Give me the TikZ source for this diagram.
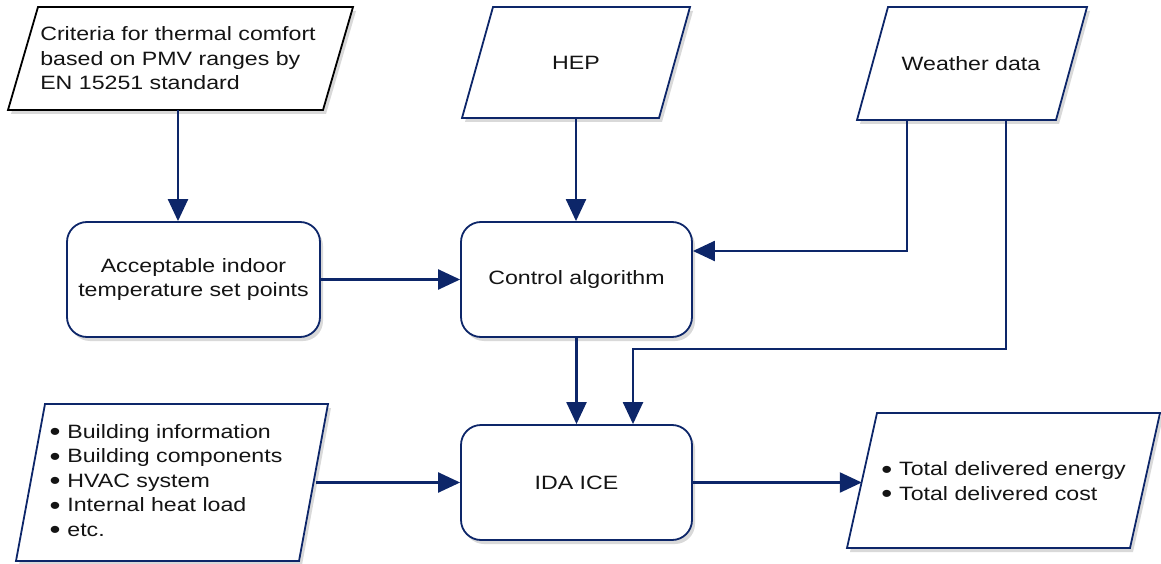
\documentclass[tikz,border=0pt]{standalone}
\usepackage{fontspec}
\setmainfont{Liberation Sans}[FakeStretch=1.2]
\usetikzlibrary{arrows.meta,shadows,calc}
\definecolor{navy}{RGB}{13,38,105}
\definecolor{txtc}{RGB}{20,20,20}
\newcommand\paragram[6][navy]{\path[shp,draw=#1] (#2+#6,#3) -- (#4,#3) -- (#4-#6,#5) -- (#2,#5) -- cycle;}
\newcommand\bul{\raisebox{-2.5pt}{\fontsize{26}{24.5}\selectfont\textbullet}\hspace{7pt}}
\begin{document}
\begin{tikzpicture}[x=1pt,y=-1pt,
  conn/.style={draw=navy, line width=2.3pt, -{Triangle[length=22pt,width=20pt]}},
  shp/.style={draw=navy, line width=1.8pt, fill=white, drop shadow={opacity=0.3,shadow xshift=3pt,shadow yshift=-4pt}},
  txt/.style={font=\fontsize{19.3}{24.5}\selectfont, text=txtc, align=center, inner sep=0pt},
  box/.style={shp, txt, rounded corners=20pt},
  hid/.style={txt, minimum width=#1}]
\useasboundingbox (0,0) rectangle (1161,564);
% parallelograms
\paragram[black]{8}{7}{353}{110}{30}
\paragram{462}{7}{690}{118}{31}
\paragram{857}{7}{1087}{120}{31}
\paragram{16}{404}{328}{561}{29}
\paragram{847}{413}{1160}{548}{30}
% nodes
\node[hid=10pt, minimum height=103pt, align=left] (crit) at (178,58.5) {Criteria for thermal comfort\\based on PMV ranges by\\EN 15251 standard};
\node[hid=10pt, minimum height=111pt] (hep) at (576,62.5) {HEP};
\node[hid=10pt, minimum height=113pt] (wea) at (971,63.5) {Weather data};
\node[hid=289pt, minimum height=156pt, align=left] (bin) at (171.5,482.5) {\makebox[0pt][l]{\hspace{-8pt}\begin{tabular}{@{}l@{}}\bul Building information\\\bul Building components\\\bul HVAC system\\\bul Internal heat load\\\bul etc.\end{tabular}}\hspace{228pt}};
\node[hid=283pt, minimum height=135pt, align=left] (out) at (1003.5,482.5) {\bul Total delivered energy\\\bul Total delivered cost};
\node[box, minimum width=253pt, minimum height=115pt] (acc) at (193.5,279.5) {Acceptable indoor\\temperature set points};
\node[box, minimum width=231pt, minimum height=115pt] (ctl) at (576.5,279.5) {Control algorithm};
\node[box, minimum width=231pt, minimum height=115pt] (ida) at (576.5,482.5) {IDA ICE};
% helper coordinates
\coordinate (w1) at (907,251);
\coordinate (w2) at (1006,349);
\coordinate (w3) at (633,349);
% connectors
\draw[conn] (crit.south) -- (acc.north -| crit.south);
\draw[conn] (hep.south) -- (ctl.north -| hep.south);
\draw[conn] (acc.east) -- (ctl.west);
\draw[conn] (wea.south -| w1) -- (w1) -- (ctl.east |- w1);
\draw[conn] (wea.south -| w2) -- (w2) -- (w3) -- (ida.north -| w3);
\draw[conn] (ctl.south) -- (ida.north);
\draw[conn] (ida.west -| bin.east) -- (ida.west);
\draw[conn] (ida.east) -- (ida.east -| out.west);
\end{tikzpicture}
\end{document}
